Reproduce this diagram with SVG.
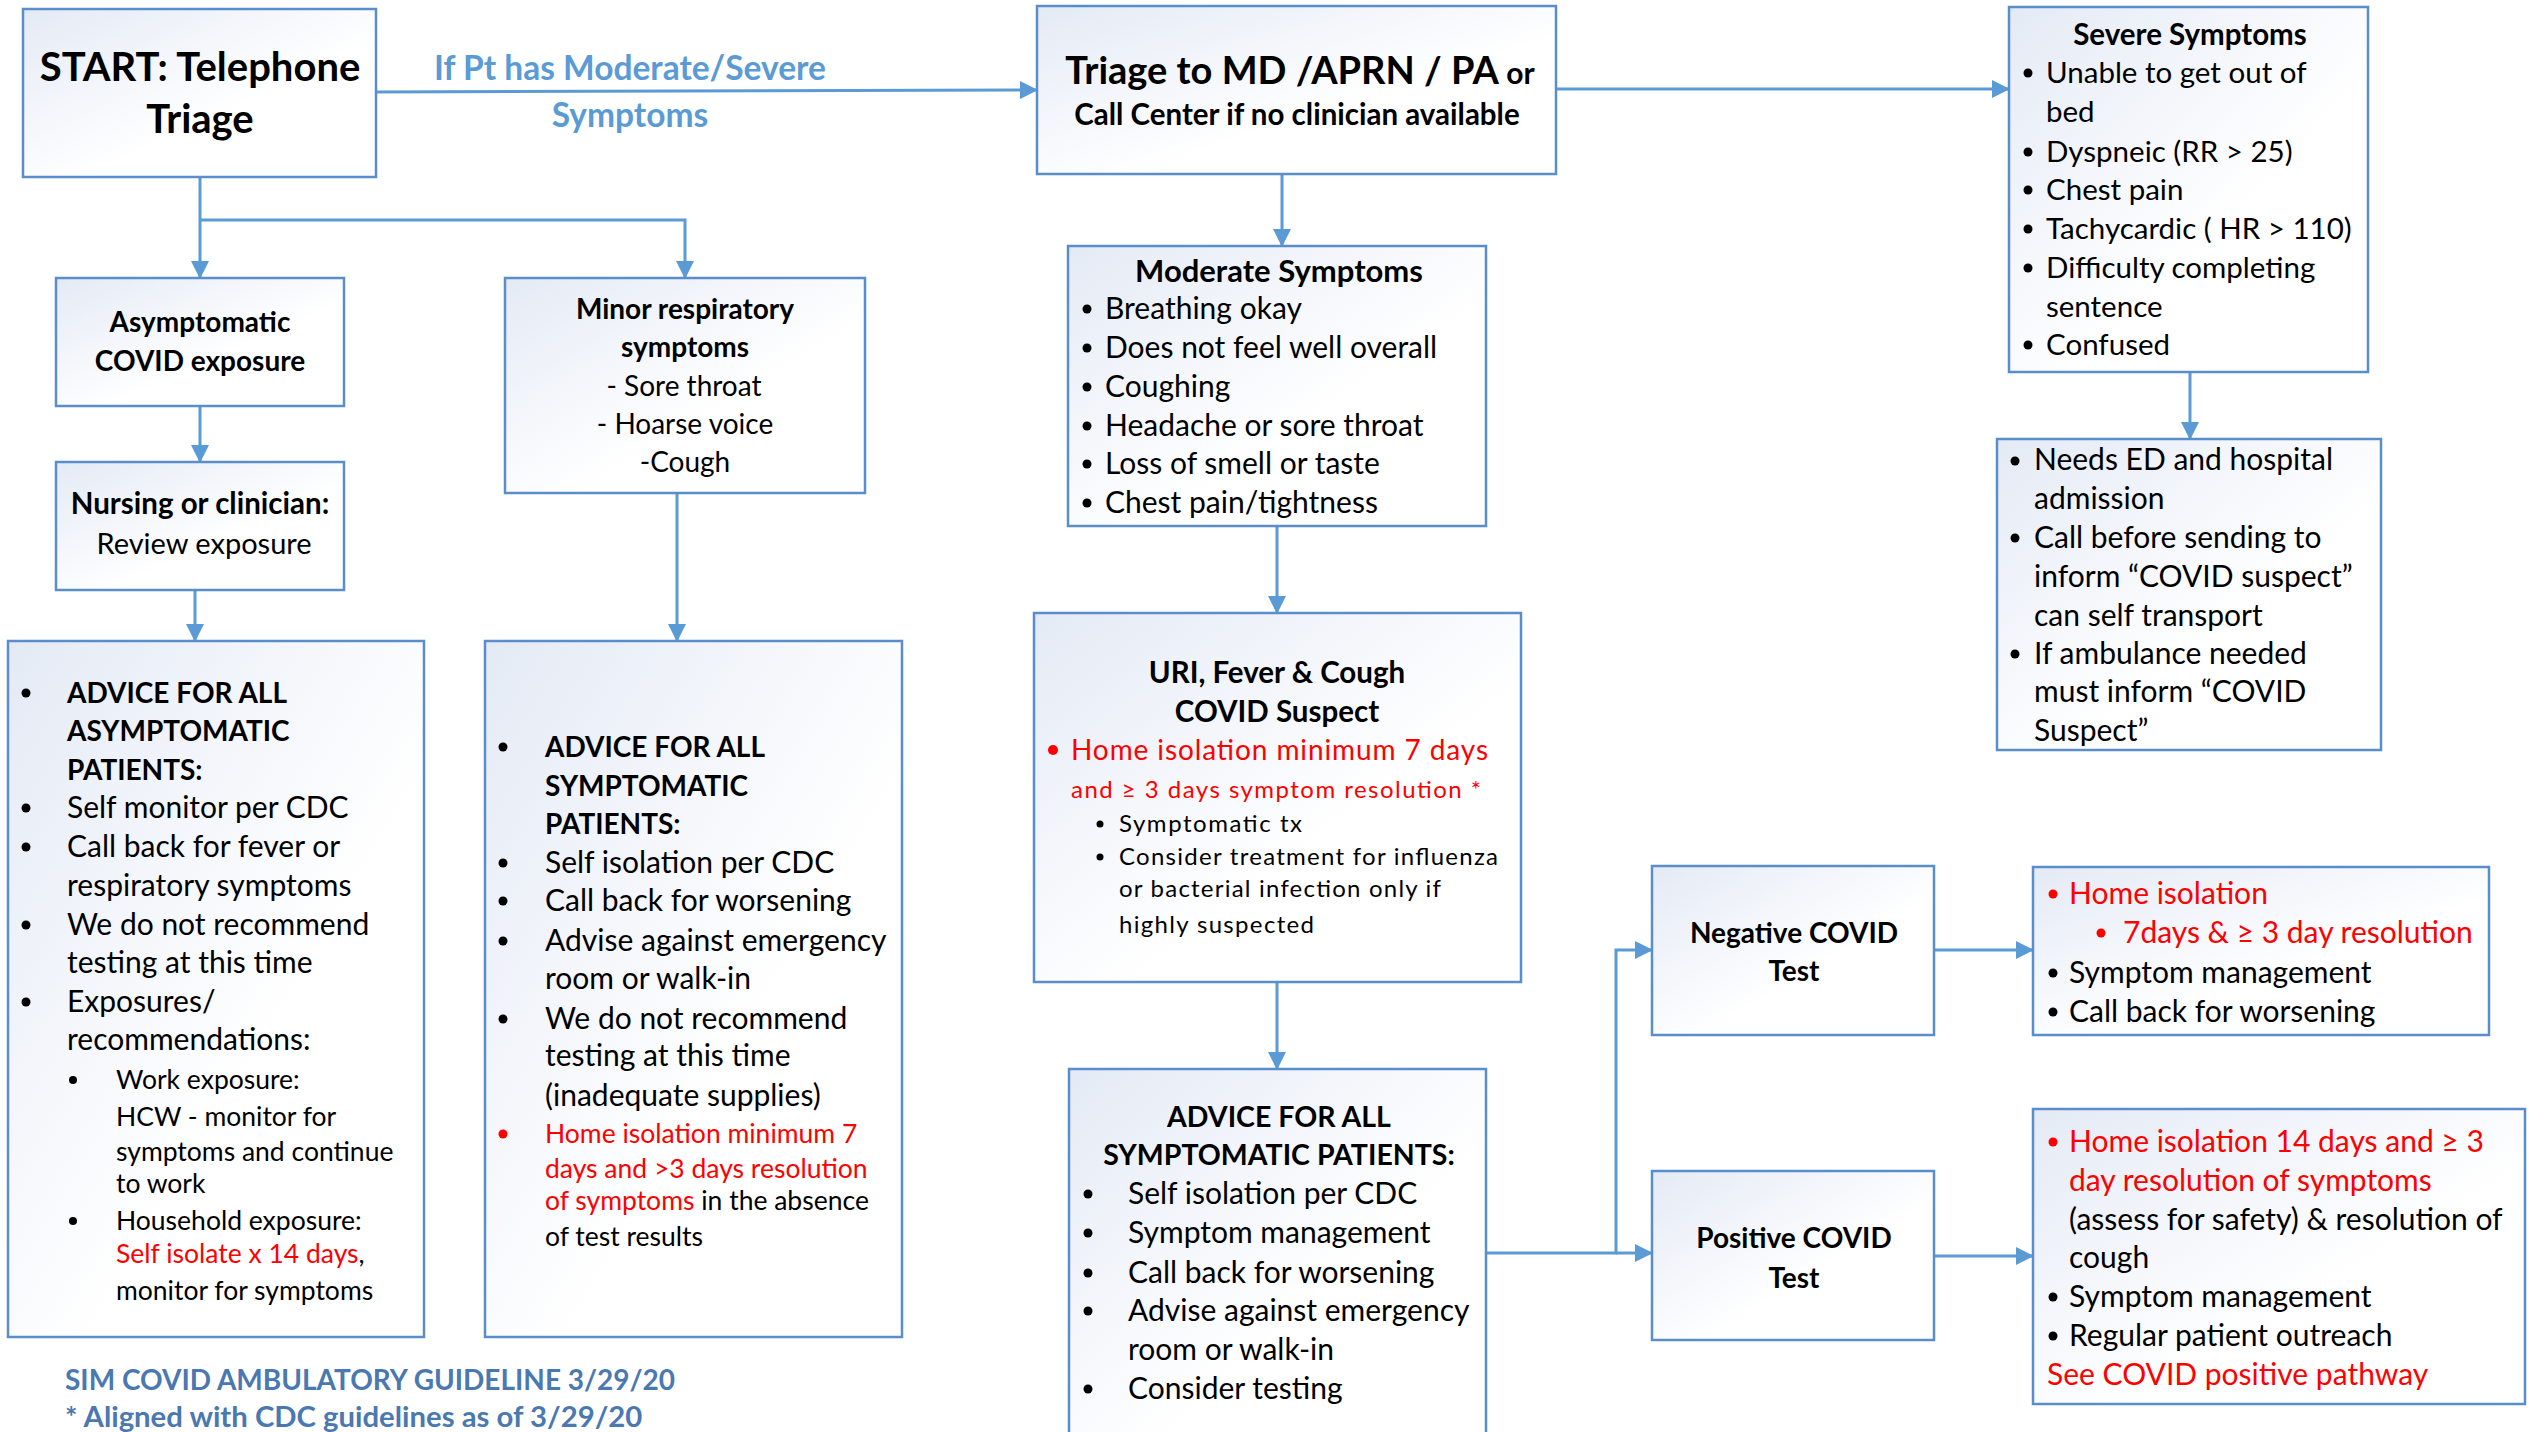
<svg xmlns="http://www.w3.org/2000/svg" width="2540" height="1432" viewBox="0 0 2540 1432">
<defs>
<linearGradient id="bg" x1="0" y1="0" x2="1" y2="1">
<stop offset="0" stop-color="#E4EAF5"/>
<stop offset="0.6" stop-color="#FFFFFF"/>
<stop offset="1" stop-color="#FFFFFF"/>
</linearGradient>
<marker id="ah" markerUnits="userSpaceOnUse" markerWidth="18" markerHeight="18" refX="17" refY="9" orient="auto">
<path d="M0,0 L18,9 L0,18 z" fill="#5B9BD5"/>
</marker>
<style>
.box{fill:url(#bg);stroke:#5A8DCB;stroke-width:2.5}
.con{fill:none;stroke:#5B9BD5;stroke-width:3;marker-end:url(#ah)}
text{font-family:Lato,"Liberation Sans",sans-serif;fill:#000}
.b{font-weight:bold}
.c{text-anchor:middle}
.r{fill:#FF0000}
.blue{fill:#5B9BD5;font-weight:bold}
.foot{fill:#4A78B0;font-weight:bold}
.f30{font-size:30px}
.f28{font-size:28px}
.f26{font-size:26px}
.f24{font-size:24px}
.hb{font-size:28px;font-weight:bold}
.dot{fill:#000}
.rdot{fill:#FF0000}
</style>
</defs>
<rect width="2540" height="1432" fill="#FFFFFF"/>

<g id="connectors">
<path class="con" d="M376,92 L1037,90"/>
<path class="con" d="M200,177 V278"/>
<path class="con" d="M200,220 H685 V278"/>
<path class="con" d="M200,406 V462"/>
<path class="con" d="M195,590 V641"/>
<path class="con" d="M677,493 V641"/>
<path class="con" d="M1282,174 V246"/>
<path class="con" d="M1556,89 H2009"/>
<path class="con" d="M2190,372 V439"/>
<path class="con" d="M1277,526 V613"/>
<path class="con" d="M1277,982 V1069"/>
<path class="con" d="M1486,1253 H1616 V950 H1652"/>
<path class="con" d="M1616,1253 H1652"/>
<path class="con" d="M1934,950 H2033"/>
<path class="con" d="M1934,1256 H2033"/>
<text class="blue c" x="630" y="80" font-size="33.5">If Pt has Moderate/Severe</text>
<text class="blue c" x="630" y="127" font-size="33.5">Symptoms</text>
</g>

<g id="start">
<rect class="box" x="23" y="9" width="353" height="168"/>
<text class="b c" x="200" y="81" font-size="40">START: Telephone</text>
<text class="b c" x="200" y="133" font-size="40">Triage</text>
</g>

<g id="triage">
<rect class="box" x="1037" y="6" width="519" height="168"/>
<text class="b c" x="1300" y="84" font-size="38">Triage to MD /APRN / PA<tspan font-size="30"> or</tspan></text>
<text class="b c" x="1297" y="125" font-size="29.5">Call Center if no clinician available</text>
</g>

<g id="severe">
<rect class="box" x="2009" y="7" width="359" height="365"/>
<text class="b c" x="2190" y="45" font-size="29.5">Severe Symptoms</text>
<g font-size="29.5">
<circle class="dot" cx="2028" cy="73" r="4.5"/><text x="2046" y="83">Unable to get out of</text>
<text x="2046" y="122">bed</text>
<circle class="dot" cx="2028" cy="152" r="4.5"/><text x="2046" y="162">Dyspneic (RR &gt; 25)</text>
<circle class="dot" cx="2028" cy="190" r="4.5"/><text x="2046" y="200">Chest pain</text>
<circle class="dot" cx="2028" cy="229" r="4.5"/><text x="2046" y="239">Tachycardic ( HR &gt; 110)</text>
<circle class="dot" cx="2028" cy="268" r="4.5"/><text x="2046" y="278">Difficulty completing</text>
<text x="2046" y="317">sentence</text>
<circle class="dot" cx="2028" cy="345" r="4.5"/><text x="2046" y="355">Confused</text>
</g>
</g>

<g id="ed">
<rect class="box" x="1997" y="439" width="384" height="311"/>
<g class="f30">
<circle class="dot" cx="2015" cy="461" r="4.5"/><text x="2034" y="470">Needs ED and hospital</text>
<text x="2034" y="509">admission</text>
<circle class="dot" cx="2015" cy="538" r="4.5"/><text x="2034" y="548">Call before sending to</text>
<text x="2034" y="587">inform “COVID suspect”</text>
<text x="2034" y="626">can self transport</text>
<circle class="dot" cx="2015" cy="654" r="4.5"/><text x="2034" y="664">If ambulance needed</text>
<text x="2034" y="702">must inform “COVID</text>
<text x="2034" y="741">Suspect”</text>
</g>
</g>

<g id="moderate">
<rect class="box" x="1068" y="246" width="418" height="280"/>
<text class="b c" x="1279" y="282" font-size="31">Moderate  Symptoms</text>
<g class="f30">
<circle class="dot" cx="1087" cy="309" r="4.5"/><text x="1105" y="319">Breathing okay</text>
<circle class="dot" cx="1087" cy="348" r="4.5"/><text x="1105" y="358">Does not feel well overall</text>
<circle class="dot" cx="1087" cy="387" r="4.5"/><text x="1105" y="397">Coughing</text>
<circle class="dot" cx="1087" cy="426" r="4.5"/><text x="1105" y="436">Headache or sore throat</text>
<circle class="dot" cx="1087" cy="464" r="4.5"/><text x="1105" y="474">Loss of smell or taste</text>
<circle class="dot" cx="1087" cy="503" r="4.5"/><text x="1105" y="513">Chest pain/tightness</text>
</g>
</g>

<g id="uri">
<rect class="box" x="1034" y="613" width="487" height="369"/>
<text class="b c" x="1277" y="683" font-size="29.5">URI, Fever &amp; Cough</text>
<text class="b c" x="1277" y="722" font-size="29.5">COVID Suspect</text>
<circle class="rdot" cx="1053" cy="750" r="5"/>
<text class="r f28" x="1071" y="760" textLength="417" lengthAdjust="spacing">Home isolation minimum 7 days</text>
<text class="r f24" x="1071" y="798" textLength="410" lengthAdjust="spacing">and ≥ 3 days symptom resolution *</text>
<circle class="dot" cx="1100" cy="824" r="3.5"/>
<text class="f24" x="1119" y="832" textLength="183" lengthAdjust="spacing">Symptomatic tx</text>
<circle class="dot" cx="1100" cy="857" r="3.5"/>
<text class="f24" x="1119" y="865" textLength="379" lengthAdjust="spacing">Consider treatment for influenza</text>
<text class="f24" x="1119" y="897" textLength="322" lengthAdjust="spacing">or bacterial infection only if</text>
<text class="f24" x="1119" y="933" textLength="195" lengthAdjust="spacing">highly suspected</text>
</g>

<g id="advice-central">
<rect class="box" x="1069" y="1069" width="417" height="380"/>
<text class="b c" x="1279" y="1127" font-size="28.5">ADVICE FOR ALL</text>
<text class="b c" x="1279" y="1165" font-size="28.5">SYMPTOMATIC PATIENTS:</text>
<g class="f30">
<circle class="dot" cx="1088" cy="1194" r="4.5"/><text x="1128" y="1204">Self isolation per CDC</text>
<circle class="dot" cx="1088" cy="1233" r="4.5"/><text x="1128" y="1243">Symptom management</text>
<circle class="dot" cx="1088" cy="1273" r="4.5"/><text x="1128" y="1283">Call back for worsening</text>
<circle class="dot" cx="1088" cy="1311" r="4.5"/><text x="1128" y="1321">Advise against emergency</text>
<text x="1128" y="1360">room or walk-in</text>
<circle class="dot" cx="1088" cy="1389" r="4.5"/><text x="1128" y="1399">Consider testing</text>
</g>
</g>

<g id="negative">
<rect class="box" x="1652" y="866" width="282" height="169"/>
<text class="b c f28" x="1794" y="943">Negative COVID</text>
<text class="b c f28" x="1794" y="981">Test</text>
</g>

<g id="positive">
<rect class="box" x="1652" y="1171" width="282" height="169"/>
<text class="b c f28" x="1794" y="1248">Positive COVID</text>
<text class="b c f28" x="1794" y="1288">Test</text>
</g>

<g id="neg-result">
<rect class="box" x="2033" y="867" width="456" height="168"/>
<g class="f30">
<circle class="rdot" cx="2053" cy="894" r="4.5"/><text class="r" x="2069" y="904">Home isolation</text>
<circle class="rdot" cx="2101" cy="933" r="4.5"/><text class="r" x="2123" y="943">7days &amp; ≥ 3 day resolution</text>
<circle class="dot" cx="2053" cy="973" r="4.5"/><text x="2069" y="983">Symptom management</text>
<circle class="dot" cx="2053" cy="1012" r="4.5"/><text x="2069" y="1022">Call back for worsening</text>
</g>
</g>

<g id="pos-result">
<rect class="box" x="2033" y="1109" width="492" height="295"/>
<g class="f30">
<circle class="rdot" cx="2053" cy="1142" r="4.5"/><text class="r" x="2069" y="1152">Home isolation 14 days and ≥ 3</text>
<text class="r" x="2069" y="1191">day resolution of symptoms</text>
<text x="2069" y="1230">(assess for safety) &amp; resolution of</text>
<text x="2069" y="1268">cough</text>
<circle class="dot" cx="2053" cy="1297" r="4.5"/><text x="2069" y="1307">Symptom management</text>
<circle class="dot" cx="2053" cy="1336" r="4.5"/><text x="2069" y="1346">Regular patient outreach</text>
<text class="r" x="2047" y="1385">See COVID positive pathway</text>
</g>
</g>

<g id="asymptomatic">
<rect class="box" x="56" y="278" width="288" height="128"/>
<text class="b c f28" x="200" y="332">Asymptomatic</text>
<text class="b c f28" x="200" y="371">COVID exposure</text>
</g>

<g id="nursing">
<rect class="box" x="56" y="462" width="288" height="128"/>
<text class="b c" x="200" y="514" font-size="29.5">Nursing or clinician:</text>
<text class="c" x="204" y="554" font-size="29">Review exposure</text>
</g>

<g id="minor">
<rect class="box" x="505" y="278" width="360" height="215"/>
<text class="b c f28" x="685" y="319">Minor respiratory</text>
<text class="b c f28" x="685" y="357">symptoms</text>
<text class="c f28" x="684" y="396">- Sore throat</text>
<text class="c f28" x="685" y="434">- Hoarse voice</text>
<text class="c f28" x="685" y="472">-Cough</text>
</g>

<g id="advice-asym">
<rect class="box" x="8" y="641" width="416" height="696"/>
<circle class="dot" cx="26" cy="693" r="4.5"/><text class="hb" x="67" y="703">ADVICE FOR ALL</text>
<text class="hb" x="67" y="741">ASYMPTOMATIC</text>
<text class="hb" x="67" y="780">PATIENTS:</text>
<g class="f30">
<circle class="dot" cx="26" cy="808" r="4.5"/><text x="67" y="818">Self monitor per CDC</text>
<circle class="dot" cx="26" cy="847" r="4.5"/><text x="67" y="857">Call back for fever or</text>
<text x="67" y="896">respiratory symptoms</text>
<circle class="dot" cx="26" cy="925" r="4.5"/><text x="67" y="935">We do not recommend</text>
<text x="67" y="973">testing at this time</text>
<circle class="dot" cx="26" cy="1002" r="4.5"/><text x="67" y="1012">Exposures/</text>
<text x="67" y="1050">recommendations:</text>
</g>
<g font-size="26.5">
<circle class="dot" cx="73" cy="1080" r="4"/><text x="116" y="1089">Work exposure:</text>
<text x="116" y="1126">HCW - monitor for</text>
<text x="116" y="1161">symptoms and continue</text>
<text x="116" y="1193">to work</text>
<circle class="dot" cx="73" cy="1221" r="4"/><text x="116" y="1230">Household exposure:</text>
<text x="116" y="1263"><tspan class="r">Self isolate x 14 days</tspan>,</text>
<text x="116" y="1300">monitor for symptoms</text>
</g>
</g>

<g id="advice-sym">
<rect class="box" x="485" y="641" width="417" height="696"/>
<circle class="dot" cx="503" cy="747" r="4.5"/><text class="hb" x="545" y="757">ADVICE FOR ALL</text>
<text class="hb" x="545" y="796">SYMPTOMATIC</text>
<text class="hb" x="545" y="834">PATIENTS:</text>
<g class="f30">
<circle class="dot" cx="503" cy="863" r="4.5"/><text x="545" y="873">Self isolation per CDC</text>
<circle class="dot" cx="503" cy="901" r="4.5"/><text x="545" y="911">Call back for worsening</text>
<circle class="dot" cx="503" cy="941" r="4.5"/><text x="545" y="951">Advise against emergency</text>
<text x="545" y="989">room or walk-in</text>
<circle class="dot" cx="503" cy="1019" r="4.5"/><text x="545" y="1029">We do not recommend</text>
<text x="545" y="1066">testing at this time</text>
<text x="545" y="1106">(inadequate supplies)</text>
</g>
<g font-size="26.5">
<circle class="rdot" cx="503" cy="1134" r="4.5"/><text class="r" x="545" y="1143">Home isolation minimum 7</text>
<text class="r" x="545" y="1178">days and &gt;3 days resolution</text>
<text x="545" y="1210"><tspan class="r">of symptoms</tspan> in the absence</text>
<text x="545" y="1246">of test results</text>
</g>
</g>

<g id="footer">
<text class="foot" x="65" y="1390" font-size="28">SIM COVID AMBULATORY GUIDELINE 3/29/20</text>
<text class="foot" x="65" y="1427" font-size="29.3">* Aligned with CDC guidelines as of 3/29/20</text>
</g>
</svg>
